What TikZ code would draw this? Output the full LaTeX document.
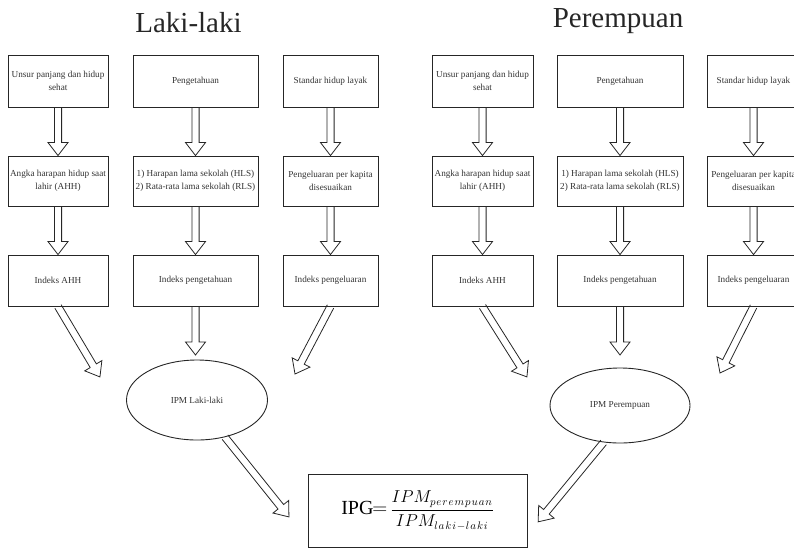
\documentclass[tikz,border=0pt]{standalone}
\usepackage{amsmath}
\usepackage{fontspec}
\setmainfont{Liberation Serif}
\usetikzlibrary{calc,shapes.geometric}
\tikzset{
  bx/.style={draw=black!85, line width=0.9pt, inner sep=1pt, align=center,
    font=\fontsize{9.2}{13}\selectfont, text=black!80},
  ell/.style={ellipse, draw=black!85, line width=0.9pt, inner sep=0pt,
    font=\fontsize{9.2}{13}\selectfont, text=black!80},
  harr/.style={draw=black!85, line width=0.8pt, line join=miter},
  ttl/.style={font=\fontsize{29}{33}\selectfont, text=black!85, anchor=base, inner sep=0pt}
}
\newcommand\hollowarr[2]{%
  \draw[harr] let \p1=(#1), \p2=(#2),
    \n1={atan2(\y2-\y1,\x2-\x1)}, \n2={veclen(\x2-\x1,\y2-\y1)} in
    [shift={(\p1)}, rotate=\n1]
    (0,3.6) -- ({\n2-13},3.6) -- ({\n2-13},10) -- ({\n2},0)
    -- ({\n2-13},-10) -- ({\n2-13},-3.6) -- (0,-3.6);}
\begin{document}
\begin{tikzpicture}[x=1pt,y=-1pt]
\useasboundingbox (0,0) rectangle (794,549);
% titles
\node[ttl] (tl) at (188.5,32) {Laki-laki};
\node[ttl] (tr) at (618,27) {Perempuan};
% left group
\node[bx, minimum width=100, minimum height=52] (l11) at (58,81) {Unsur panjang dan hidup\\sehat};
\node[bx, minimum width=125, minimum height=52] (l12) at (195.5,81) {Pengetahuan};
\node[bx, minimum width=95, minimum height=52] (l13) at (330.5,81) {Standar hidup layak};
\node[bx, minimum width=100, minimum height=50] (l21) at (58,181) {Angka harapan hidup saat\\lahir (AHH)};
\node[bx, minimum width=125, minimum height=50] (l22) at (195.5,181) {1) Harapan lama sekolah (HLS)\\2) Rata-rata lama sekolah (RLS)};
\node[bx, minimum width=95, minimum height=50] (l23) at (330.5,181) {Pengeluaran per kapita\\disesuaikan};
\node[bx, minimum width=100, minimum height=51] (l31) at (58,280.5) {Indeks AHH};
\node[bx, minimum width=125, minimum height=51] (l32) at (195.5,280.5) {Indeks pengetahuan};
\node[bx, minimum width=95, minimum height=51] (l33) at (330.5,280.5) {Indeks pengeluaran};
% right group
\node[bx, minimum width=101, minimum height=52] (r11) at (482.5,81) {Unsur panjang dan hidup\\sehat};
\node[bx, minimum width=126, minimum height=52] (r12) at (620,81) {Pengetahuan};
\node[bx, minimum width=93, minimum height=52] (r13) at (753.5,81) {Standar hidup layak};
\node[bx, minimum width=101, minimum height=50] (r21) at (482.5,181) {Angka harapan hidup saat\\lahir (AHH)};
\node[bx, minimum width=126, minimum height=50] (r22) at (620,181) {1) Harapan lama sekolah (HLS)\\2) Rata-rata lama sekolah (RLS)};
\node[bx, minimum width=93, minimum height=50] (r23) at (753.5,181) {Pengeluaran per kapita\\disesuaikan};
\node[bx, minimum width=101, minimum height=51] (r31) at (482.5,280.5) {Indeks AHH};
\node[bx, minimum width=126, minimum height=51] (r32) at (620,280.5) {Indeks pengetahuan};
\node[bx, minimum width=93, minimum height=51] (r33) at (753.5,280.5) {Indeks pengeluaran};
% ellipses
\node[ell, minimum width=141, minimum height=80] (e1) at (197,400) {IPM Laki-laki};
\node[ell, minimum width=140, minimum height=75] (e2) at (620,405.5) {IPM Perempuan};
% result
\node[bx, minimum width=219, minimum height=73, text=black] (ipg) at (417.5,510.5)
  {{\fontsize{20}{24}\selectfont IPG\kern-1pt$=$}\kern3pt{\fontsize{16}{19}\selectfont
   $\dfrac{IPM_{p\mkern1.5mu e\mkern1.5mu r\mkern1.5mu e\mkern1.5mu m\mkern1.5mu p\mkern1.5mu u\mkern1.5mu a\mkern1.5mu n}}%
          {IPM_{l\mkern1.5mu a\mkern1.5mu k\mkern1.5mu i\mkern1mu - \mkern1mu l\mkern1.5mu a\mkern1.5mu k\mkern1.5mu i}}$}};
% tip coordinates
\coordinate (lt1) at (100,377);
\coordinate (lt2) at (195.5,355);
\coordinate (lt3) at (295,374);
\coordinate (rt1) at (527,377);
\coordinate (rt2) at (620,355);
\coordinate (rt3) at (720,373);
\coordinate (bt1) at (289,517);
\coordinate (bt2) at (538,522);
% arrows
\foreach \g in {l,r}{
  \foreach \c in {1,2,3}{
    \hollowarr{\g1\c.south}{\g2\c.north}
    \hollowarr{\g2\c.south}{\g3\c.north}
  }
}
\hollowarr{l31.south}{lt1}
\hollowarr{l32.south}{lt2}
\hollowarr{l33.south}{lt3}
\hollowarr{r31.south}{rt1}
\hollowarr{r32.south}{rt2}
\hollowarr{r33.south}{rt3}
\hollowarr{e1.-53}{bt1}
\hollowarr{e2.-114}{bt2}
\end{tikzpicture}
\end{document}
